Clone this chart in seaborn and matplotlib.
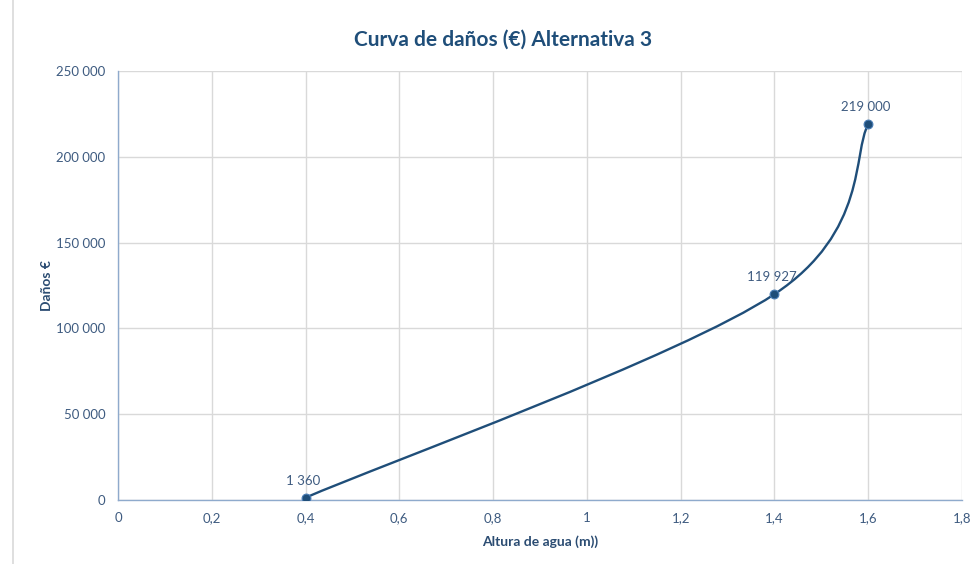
import numpy as np
import seaborn as sns
import matplotlib.pyplot as plt
from matplotlib.path import Path
from matplotlib.patches import PathPatch
from matplotlib.lines import Line2D
from matplotlib.ticker import FuncFormatter

# ── Data ────────────────────────────────────────────────────
altura = [0.4, 1.4, 1.6]
danos = [1360, 119927, 219000]
x_ticks = [0, 0.2, 0.4, 0.6, 0.8, 1.0, 1.2, 1.4, 1.6, 1.8]
y_ticks = [0, 50000, 100000, 150000, 200000, 250000]

sns.set_theme(style="whitegrid")
plt.rcParams["font.family"] = ["Lato", "DejaVu Sans"]

LINE = "#1F4E79"
LABEL = "#2B4C72"
TICK = "#3E5B80"


def fmt_num(v):
    return f"{v:,.0f}".replace(",", " ")


def excel_smooth_path(xs, ys):
    # Excel-style smoothed line: cubic Bezier segments through the points
    pts = np.column_stack([xs, ys]).astype(float)
    n = len(pts)
    verts = [pts[0]]
    codes = [Path.MOVETO]
    for i in range(n - 1):
        p0 = pts[max(i - 1, 0)]
        p1 = pts[i]
        p2 = pts[i + 1]
        p3 = pts[min(i + 2, n - 1)]
        c1 = p1 + (p2 - p0) / 6
        c2 = p2 - (p3 - p1) / 6
        verts += [c1, c2, p2]
        codes += [Path.CURVE4] * 3
    return Path(verts, codes)


fig = plt.figure(figsize=(9.72, 5.64), dpi=100)
ax = fig.add_axes([0.1214, 0.1135, 0.8683, 0.7606])
ax.set_facecolor("white")

ax.add_patch(PathPatch(excel_smooth_path(altura, danos), facecolor="none",
                       edgecolor=LINE, linewidth=1.7, zorder=3))
sns.scatterplot(x=altura, y=danos, ax=ax, color=LINE, s=40,
                edgecolor="#4A7DB5", linewidth=0.8, zorder=4)

for xv, yv in zip(altura, danos):
    ax.annotate(fmt_num(yv), (xv, yv), xytext=(-2, 8), textcoords="offset points",
                ha="center", va="bottom", fontsize=9.5, color=TICK)

ax.set_xlim(0, 1.8)
ax.set_ylim(0, 250000)
ax.set_xticks(x_ticks)
ax.set_yticks(y_ticks)
ax.xaxis.set_major_formatter(FuncFormatter(lambda v, p: f"{v:g}".replace(".", ",")))
ax.yaxis.set_major_formatter(FuncFormatter(lambda v, p: fmt_num(v)))
ax.tick_params(axis="both", labelsize=9.5, colors=TICK, length=0, pad=9)

ax.grid(True, color="#D9D9D9", linewidth=1.0)
for side in ["top", "right"]:
    ax.spines[side].set_visible(False)
for side in ["left", "bottom"]:
    ax.spines[side].set_color("#8FAACC")
    ax.spines[side].set_linewidth(1.0)

ax.set_xlabel("Altura de agua (m))", fontsize=10, fontweight="bold", color=LABEL, labelpad=8)
ax.set_ylabel("Daños €", fontsize=10, fontweight="bold", color=LABEL, labelpad=2)

fig.text(0.5175, 0.929, "Curva de daños (€) Alternativa 3", ha="center", va="center",
         fontsize=15, fontweight="bold", color=LINE)

# chart-area border peeking in on the left
fig.add_artist(Line2D([13 / 972, 13 / 972], [0, 1], color="#D9D9D9", linewidth=1.2))

fig.savefig("out.png", dpi=100)
